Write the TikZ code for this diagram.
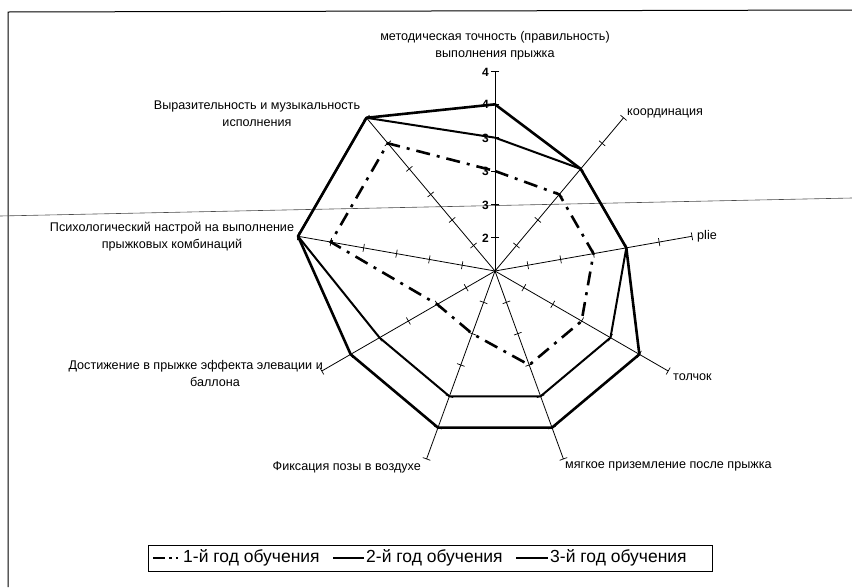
\documentclass[tikz,border=0pt]{standalone}
\usepackage{fontspec}
\setmainfont{Liberation Sans}
\begin{document}
\begin{tikzpicture}[x=1pt,y=1pt,
  axisline/.style={line width=0.8pt},
  tickmark/.style={line width=0.7pt},
  frameline/.style={line width=1pt},
  scanline/.style={line width=0.6pt, black!70},
  yearone/.style={line width=2.6pt, dash pattern=on 14pt off 7pt on 3pt off 7pt},
  yeartwo/.style={line width=2pt, line join=round},
  yearthree/.style={line width=2.6pt, line join=round},
  lbl/.style={font=\fontsize{12.6}{17}\selectfont, inner sep=0pt, align=center},
  ticklbl/.style={font=\bfseries\fontsize{12}{12}\selectfont, inner sep=0pt, anchor=east},
  legtext/.style={font=\fontsize{17.5}{18}\selectfont, inner sep=0pt, anchor=west}]
\useasboundingbox (0,0) rectangle (852,-587);

% frame and scan line
\draw[frameline] (8,-587) -- (8,-12) -- (852,-10);
\draw[scanline] (0,-216) -- (852,-198);

\coordinate (C) at (495,-271);

% axes with ticks
\foreach \i/\a in {1/90,2/50,3/10,4/-30,5/-70,6/-110,7/-150,8/170,9/130} {
  \begin{scope}[shift={(C)}, rotate=\a]
    \draw[axisline] (0,0) -- (200,0);
    \foreach \k in {33.33,66.67,100,133.33,166.67,200}
      \draw[tickmark] (\k,-4) -- (\k,4);
  \end{scope}
  \coordinate (E\i) at ([shift={(\a:200)}]C);
}

% tick labels on top axis
\node[ticklbl] (t1) at (489,-238) {2};
\node[ticklbl] (t2) at (489,-205) {3};
\node[ticklbl] (t3) at (489,-171) {3};
\node[ticklbl] (t4) at (489,-138) {3};
\node[ticklbl] (t5) at (489,-104) {4};
\node[ticklbl] (t6) at (489,-72) {4};

% data polygons
\draw[yeartwo] ([shift={(90:133.33)}]C) -- ([shift={(50:133.33)}]C) -- ([shift={(10:133.33)}]C)
  -- ([shift={(-30:133.33)}]C) -- ([shift={(-70:133.33)}]C) -- ([shift={(-110:133.33)}]C)
  -- ([shift={(-150:133.33)}]C) -- ([shift={(170:200)}]C) -- ([shift={(130:200)}]C) -- cycle;
\draw[yearthree] ([shift={(90:166.67)}]C) -- ([shift={(50:133.33)}]C) -- ([shift={(10:133.33)}]C)
  -- ([shift={(-30:166.67)}]C) -- ([shift={(-70:166.67)}]C) -- ([shift={(-110:166.67)}]C)
  -- ([shift={(-150:166.67)}]C) -- ([shift={(170:200)}]C) -- ([shift={(130:200)}]C) -- cycle;
\draw[yearone] ([shift={(90:100)}]C) -- ([shift={(50:100)}]C) -- ([shift={(10:100)}]C)
  -- ([shift={(-30:100)}]C) -- ([shift={(-70:100)}]C) -- ([shift={(-110:66.67)}]C)
  -- ([shift={(-150:66.67)}]C) -- ([shift={(170:166.67)}]C) -- ([shift={(130:166.67)}]C) -- cycle;

% axis labels
\node[lbl] (l1) at (495,-46) {методическая точность (правильность)\\выполнения прыжка};
\node[lbl, anchor=west] (l2) at (627,-113) {координация};
\node[lbl, anchor=west] (l3) at (697,-236) {plie};
\node[lbl, anchor=west] (l4) at (673,-377) {толчок};
\node[lbl, anchor=west] (l5) at (565,-466) {мягкое приземление после прыжка};
\node[lbl, anchor=east] (l6) at (421,-467) {Фиксация позы в воздухе};
\node[lbl, anchor=east] (l7a) at (323,-366) {Достижение в прыжке эффекта элевации и};
\node[lbl] (l7b) at (215,-382) {баллона};
\node[lbl] (l8) at (172,-237) {Психологический настрой на выполнение\\прыжковых комбинаций};
\node[lbl] (l9) at (257,-114) {Выразительность и музыкальность\\исполнения};

% legend
\draw[line width=0.9pt] (148,-545) rectangle (712,-571);
\draw[yearone, dash pattern=on 12pt off 4pt on 3pt off 4pt, line width=2pt] (153,-558) -- (178,-558);
\node[legtext] (g1) at (183,-558) {1-й год обучения};
\draw[yeartwo, line width=1.4pt] (333,-558) -- (364,-558);
\node[legtext] (g2) at (366,-558) {2-й год обучения};
\draw[yearthree, line width=2.2pt] (516,-558) -- (548,-558);
\node[legtext] (g3) at (550,-558) {3-й год обучения};
\end{tikzpicture}
\end{document}
